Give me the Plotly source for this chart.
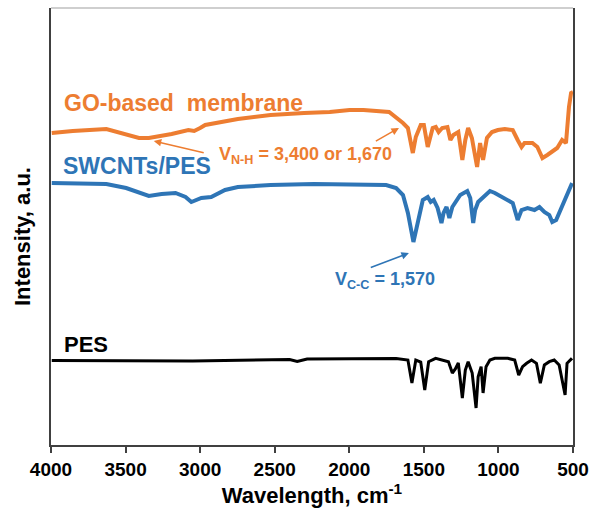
import plotly.graph_objects as go

# FTIR spectra (wavenumber in cm-1, intensity in arbitrary units, stacked offsets)
wn_go = [3995, 3854, 3629, 3500, 3410, 3344, 3191, 3079, 3040, 3000,
         2966, 2747, 2528, 2303, 2131, 1998, 1905, 1733, 1686, 1640,
         1607, 1574, 1554, 1521, 1500, 1474, 1441, 1420, 1401, 1377,
         1342, 1322, 1302, 1269, 1242, 1222, 1203, 1178, 1143, 1123,
         1103, 1077, 1043, 1004, 957, 904, 871, 845, 825, 805,
         772, 739, 705, 672, 639, 606, 573, 547, 527, 513, 500]
int_go = [312, 314, 316, 311, 307, 307, 311, 315, 314, 317,
          320, 326, 330, 332, 333, 335, 335, 333, 328, 322,
          317, 292, 308, 320, 320, 298, 317, 318, 313, 317,
          318, 305, 310, 313, 285, 305, 317, 307, 278, 302,
          285, 307, 313, 315, 316, 315, 305, 298, 302, 302,
          302, 298, 287, 290, 293, 297, 305, 302, 338, 352, 353]

wn_swcnt = [3995, 3629, 3496, 3344, 3258, 3165, 3098, 3059, 2992, 2926,
            2833, 2747, 2528, 2237, 1753, 1686, 1640, 1607, 1570, 1534,
            1507, 1474, 1454, 1434, 1408, 1382, 1368, 1348, 1329, 1309,
            1289, 1256, 1209, 1189, 1169, 1156, 1136, 1090, 1057, 1024,
            977, 937, 904, 871, 845, 805, 758, 725, 692, 659,
            639, 613, 593, 560, 527, 506]
int_swcnt = [262, 261, 257, 249, 251, 252, 248, 243, 247, 248,
             255, 258, 260, 261, 260, 257, 250, 232, 203, 225,
             245, 248, 243, 245, 237, 222, 232, 238, 227, 238,
             243, 250, 254, 247, 222, 235, 243, 250, 254, 252,
             248, 245, 242, 225, 235, 237, 235, 238, 233, 230,
             223, 225, 232, 243, 257, 262]

wn_pes = [3995, 3700, 3650, 3100, 3050, 2400, 2349, 2283, 1686, 1607,
          1580, 1554, 1521, 1494, 1468, 1421, 1335, 1309, 1289, 1269,
          1242, 1222, 1203, 1176, 1150, 1136, 1116, 1103, 1083, 1057,
          1024, 937, 891, 864, 838, 811, 778, 745, 719, 692,
          659, 626, 593, 553, 540, 507]
int_pes = [84.5, 84.5, 84, 84.5, 84, 85.5, 83.5, 86, 86.5, 85,
           62, 85, 83, 55, 83.3, 86.7, 83.3, 72, 76, 82,
           47, 75, 83.3, 72, 37, 68.3, 78.3, 52, 78.3, 85,
           86.7, 86.7, 85, 70, 78.3, 81.7, 85, 81.7, 61.7, 80,
           83.3, 85, 80, 50, 81.7, 86.7]

x_ticks = [4000, 3500, 3000, 2500, 2000, 1500, 1000, 500]

ORANGE = "#ED7D31"
BLUE = "#2E75B6"
BLACK = "#000000"
AXIS = "#404040"
FONT = "Liberation Sans, Arial, sans-serif"

fig = go.Figure()
fig.add_trace(go.Scatter(x=wn_go, y=int_go, mode="lines",
                         line=dict(color=ORANGE, width=4), name="GO-based membrane"))
fig.add_trace(go.Scatter(x=wn_swcnt, y=int_swcnt, mode="lines",
                         line=dict(color=BLUE, width=4), name="SWCNTs/PES"))
fig.add_trace(go.Scatter(x=wn_pes, y=int_pes, mode="lines",
                         line=dict(color=BLACK, width=3), name="PES"))


def label(text, x, y, color, size):
    return dict(text=text, x=x, y=y, xref="x", yref="y", xanchor="left", yanchor="middle",
                showarrow=False, font=dict(family=FONT, size=size, color=color, weight="bold"))


def arrow(x, y, ax, ay, color):
    return dict(text="", x=x, y=y, ax=ax, ay=ay, xref="x", yref="y", axref="x", ayref="y",
                showarrow=True, arrowhead=2, arrowsize=1, arrowwidth=1.5, arrowcolor=color)


annotations = [
    label("GO-based  membrane", 3925, 342, ORANGE, 23),
    label("SWCNTs/PES", 3935, 279, BLUE, 23),
    label("PES", 3925, 101, BLACK, 22),
    label("V<sub>N-H</sub> = 3,400 or 1,670", 2885, 290, ORANGE, 18),
    label("V<sub>C-C</sub> = 1,570", 2110, 165, BLUE, 18),
    arrow(3311, 304, 2966, 292, ORANGE),
    arrow(1667, 317, 1832, 303, ORANGE),
    arrow(1600, 192, 1866, 177, BLUE),
    # y-axis title, placed slightly below the plot's vertical centre
    dict(text="Intensity, a.u.", textangle=-90, x=0, y=0.476, xref="paper", yref="paper",
         xanchor="center", yanchor="middle", xshift=-28, showarrow=False,
         font=dict(family=FONT, size=22, color=BLACK, weight="bold")),
]

fig.update_layout(
    width=597, height=513,
    margin=dict(l=51, r=18, t=8, b=68),
    paper_bgcolor="white", plot_bgcolor="white",
    showlegend=False,
    annotations=annotations,
    shapes=[dict(type="line", xref="paper", yref="paper", x0=0, x1=1, y0=1, y1=1,
                 line=dict(color="#BFBFBF", width=1.5))],
    xaxis=dict(
        range=[4000, 500], tickvals=x_ticks, ticktext=[str(v) for v in x_ticks],
        ticks="outside", ticklen=6, tickwidth=1.5, tickcolor=AXIS,
        showline=True, linecolor=AXIS, linewidth=1.5,
        showgrid=False, zeroline=False,
        tickfont=dict(family=FONT, size=19, color=BLACK, weight="bold"),
        title=dict(text="Wavelength, cm<sup>-1</sup>", standoff=8,
                   font=dict(family=FONT, size=22, color=BLACK, weight="bold")),
    ),
    yaxis=dict(
        range=[0, 437], showticklabels=False, ticks="",
        showline=True, mirror=True, linecolor=AXIS, linewidth=1.5,
        showgrid=False, zeroline=False,
    ),
)

fig.write_html("out.html")
